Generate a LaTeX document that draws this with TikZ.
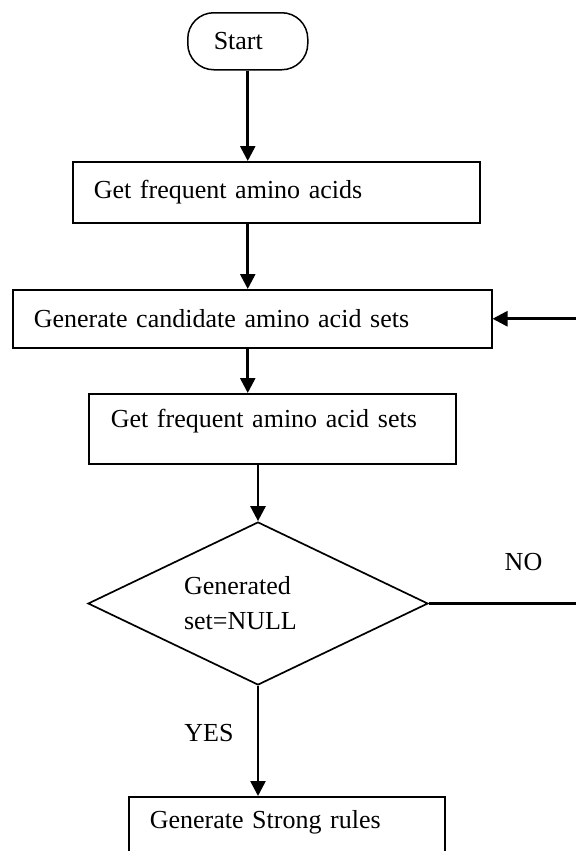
\documentclass[tikz,border=0pt]{standalone}
\usepackage{fontspec}
\setmainfont{Liberation Serif}
\usetikzlibrary{arrows.meta,shapes.geometric}

\begin{document}
\begin{tikzpicture}[
    x=0.5pt, y=-0.5pt,
    every node/.style={font=\fontsize{13}{15.6}\selectfont},
    box/.style={draw, line width=0.75pt, anchor=north west, inner ysep=0pt, align=left},
    terminal/.style={box, rounded corners=13pt},
    decision/.style={draw, diamond, line width=0.85pt, aspect=2.09, minimum width=170pt, minimum height=81.5pt, inner sep=0pt, text width=74pt, align=left},
    arrow/.style={-{Triangle[length=7.5pt, width=7.5pt]}, line width=1.3pt},
    line/.style={line width=1.1pt}]
\useasboundingbox (0,0) rectangle (576,851);
\node[terminal, minimum width=60pt, minimum height=28.5pt, inner xsep=13pt, text width=34pt] (start) at (187,12) {Start};
\node[box, minimum width=203.5pt, minimum height=30.5pt, inner xsep=10.5pt, text width=182.5pt] (freq) at (72,161) {Get frequent amino acids};
\node[box, minimum width=239.5pt, minimum height=29pt, inner xsep=10.5pt, text width=218.5pt] (cand) at (12,289) {Generate candidate amino acid sets};
\node[box, minimum width=183.5pt, minimum height=35pt, inner xsep=11pt, text width=161.5pt, text depth=10.8pt] (freqsets) at (88,393) {Get frequent amino acid sets};
\node[decision] (test) at (258,603.5) {Generated\\[1.9pt]set=NULL};
\node[box, minimum width=158pt, minimum height=35pt, inner xsep=10.5pt, text width=137pt, text depth=11.8pt] (rules) at (128,796) {Generate Strong rules};
\node (no) at (523.5,562) {NO};
\node (yes) at (209,733) {YES};
\coordinate (turn) at (578,0);
\draw[arrow] (start.south) -- (start.south |- freq.north);
\draw[arrow] (start.south |- freq.south) -- (start.south |- cand.north);
\draw[arrow] (start.south |- cand.south) -- (start.south |- freqsets.north);
\draw[arrow] (test.north |- freqsets.south) -- (test.north);
\draw[arrow] (test.south) -- (test.south |- rules.north);
\draw[line] (test.east) -- (test.east -| turn) -- (cand.east -| turn);
\draw[arrow] (cand.east -| turn) -- (cand.east);
\end{tikzpicture}
\end{document}
